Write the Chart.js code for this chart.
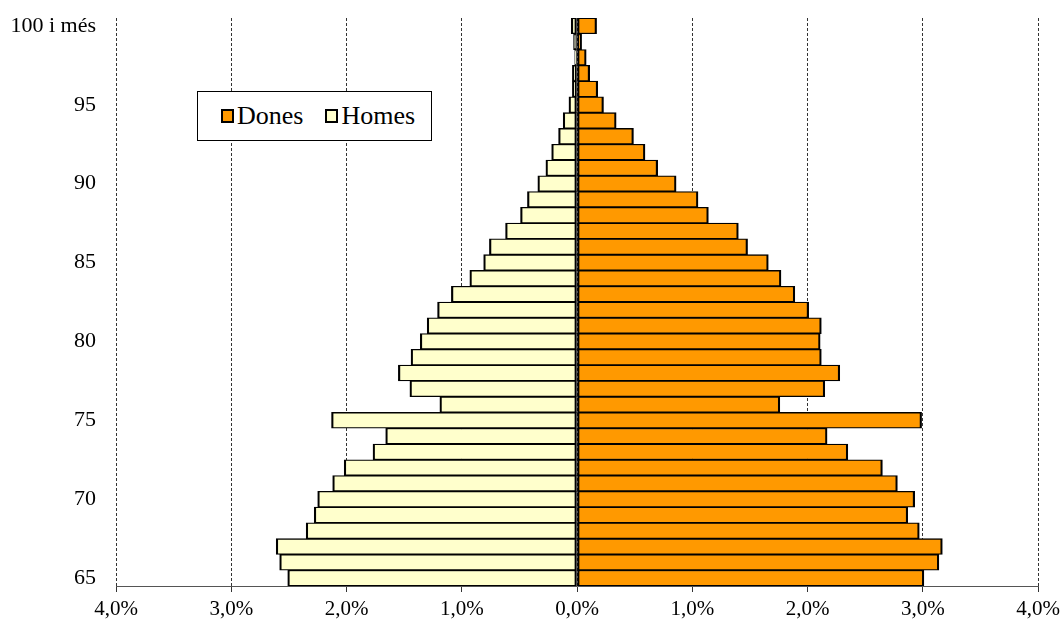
<!DOCTYPE html>
<html lang="ca">
<head>
    <meta charset="UTF-8">
    <title>Piràmide de població 65 anys i més</title>
    <script src="https://cdn.jsdelivr.net/npm/chart.js@4.4.0/dist/chart.umd.min.js"></script>
    <style>
        body { margin: 0; background: #fff; }
        .chart-container {
            position: relative;
            width: 1064px;
            height: 621px;
        }
        #legend {
            position: absolute;
            left: 197px;
            top: 91px;
            width: 235px;
            height: 50px;
            box-sizing: border-box;
            border: 1px solid #000;
            background: #fff;
            display: flex;
            align-items: center;
            padding-left: 23px;
            font-family: "Liberation Serif", "Times New Roman", serif;
            font-size: 26px;
            color: #000;
        }
        #legend .item { display: flex; align-items: center; margin-right: 22px; }
        #legend .box {
            width: 9px;
            height: 10px;
            border: 2px solid #000;
            margin-right: 3px;
        }
    </style>
</head>
<body>
    <div class="chart-container">
        <canvas id="pyramid"></canvas>
        <div id="legend"></div>
    </div>
    <script>
        // ages 65 .. 99 and the open group
        const ages = ['65', '66', '67', '68', '69', '70', '71', '72', '73', '74',
                      '75', '76', '77', '78', '79', '80', '81', '82', '83', '84',
                      '85', '86', '87', '88', '89', '90', '91', '92', '93', '94',
                      '95', '96', '97', '98', '99', '100 i més'];

        // % of population, same order as ages
        const dones = [3.01, 3.14, 3.17, 2.97, 2.87, 2.93, 2.78, 2.65, 2.35, 2.17,
                       2.99, 1.76, 2.15, 2.28, 2.12, 2.11, 2.12, 2.01, 1.89, 1.77,
                       1.66, 1.48, 1.40, 1.14, 1.05, 0.86, 0.70, 0.59, 0.49, 0.34,
                       0.23, 0.18, 0.11, 0.08, 0.04, 0.17];
        const homes = [2.51, 2.58, 2.61, 2.35, 2.28, 2.25, 2.12, 2.02, 1.77, 1.66,
                       2.13, 1.19, 1.45, 1.55, 1.44, 1.36, 1.30, 1.21, 1.09, 0.93,
                       0.81, 0.76, 0.62, 0.49, 0.43, 0.34, 0.27, 0.22, 0.16, 0.12,
                       0.07, 0.04, 0.04, 0.02, 0.03, 0.05];

        const xTicks = [-4, -3, -2, -1, 0, 1, 2, 3, 4];

        const serif = '"Liberation Serif", "Times New Roman", serif';
        const barBorder = { top: 1.3, bottom: 1.3, left: 2.2, right: 2.2 };

        const chart = new Chart(document.getElementById('pyramid'), {
            type: 'bar',
            data: {
                labels: ages,
                datasets: [{
                    label: 'Dones',
                    data: dones,
                    backgroundColor: '#FF9900',
                    borderColor: '#000',
                    borderWidth: barBorder,
                    borderSkipped: false
                }, {
                    label: 'Homes',
                    data: homes.map(v => -v),
                    backgroundColor: '#FFFFCC',
                    borderColor: '#000',
                    borderWidth: barBorder,
                    borderSkipped: false
                }]
            },
            options: {
                indexAxis: 'y',
                responsive: true,
                maintainAspectRatio: false,
                animation: false,
                barPercentage: 1,
                categoryPercentage: 1,
                layout: { padding: { top: 18, right: 26, left: 0, bottom: 0 } },
                plugins: {
                    legend: { display: false },
                    tooltip: { enabled: false }
                },
                scales: {
                    x: {
                        stacked: true,
                        min: -4,
                        max: 4,
                        afterBuildTicks: scale => {
                            scale.ticks = xTicks.map(v => ({ value: v }));
                        },
                        afterFit: scale => {
                            scale.height = 35;
                            scale.paddingLeft = 0;
                            scale.paddingRight = 0;
                        },
                        ticks: {
                            font: { family: serif, size: 21 },
                            color: '#000',
                            padding: 5,
                            maxRotation: 0,
                            callback: v => Math.abs(v).toFixed(1).replace('.', ',') + '%'
                        },
                        grid: {
                            color: '#333',
                            lineWidth: 1,
                            drawTicks: true,
                            tickLength: 6,
                            tickColor: '#333',
                            tickBorderDash: []
                        },
                        border: { display: true, color: '#555', width: 1, dash: [3, 2] }
                    },
                    y: {
                        stacked: true,
                        reverse: true,
                        afterFit: scale => {
                            scale.width = 116;
                            scale.paddingTop = 0;
                            scale.paddingBottom = 0;
                        },
                        ticks: {
                            autoSkip: false,
                            font: { family: serif, size: 22 },
                            color: '#000',
                            padding: 12,
                            callback: function (value) {
                                const lab = this.getLabelForValue(value);
                                if (lab === '100 i més' || Number(lab) % 5 === 0) return lab;
                                return '';
                            }
                        },
                        grid: { display: false },
                        border: { display: false }
                    }
                }
            }
        });

        // legend box built from the datasets
        const legend = document.getElementById('legend');
        chart.data.datasets.forEach(ds => {
            const item = document.createElement('div');
            item.className = 'item';
            const box = document.createElement('span');
            box.className = 'box';
            box.style.background = ds.backgroundColor;
            const txt = document.createElement('span');
            txt.textContent = ds.label;
            item.appendChild(box);
            item.appendChild(txt);
            legend.appendChild(item);
        });
    </script>
</body>
</html>
